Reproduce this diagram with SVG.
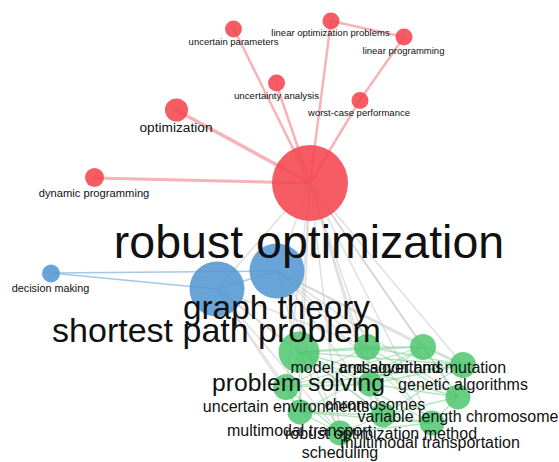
<svg xmlns="http://www.w3.org/2000/svg" width="559" height="462" viewBox="0 0 559 462">
<style>
text{font-family:"Liberation Sans",Arial,sans-serif;fill:#111;text-anchor:middle}
.r{fill:#f5454d;fill-opacity:.88}
.b{fill:#5497d3;fill-opacity:.88}
.g{fill:#47c46a;fill-opacity:.82}
.er{stroke:#f39aa0;stroke-opacity:.75;fill:none;stroke-linecap:round}
.eb{stroke:#8fb9e0;stroke-opacity:.8;fill:none;stroke-width:1.5}
.ex{stroke:#c8c8c8;stroke-opacity:.55;fill:none;stroke-width:1.6}
.eg{stroke:#7fd596;stroke-opacity:.6;fill:none;stroke-width:1.3}
</style>
<g id="connectors">
<g id="gray-edges">
<line class="ex" x1="310" y1="183" x2="277" y2="271"/>
<line class="ex" x1="310" y1="183" x2="217" y2="289"/>
<line class="ex" x1="310" y1="183" x2="299" y2="352"/>
<line class="ex" x1="310" y1="183" x2="367" y2="347"/>
<line class="ex" x1="310" y1="183" x2="423" y2="347"/>
<line class="ex" x1="310" y1="183" x2="463" y2="365"/>
<line class="ex" x1="310" y1="183" x2="286" y2="387"/>
<line class="ex" x1="310" y1="183" x2="370" y2="384"/>
<line class="ex" x1="310" y1="183" x2="458" y2="397"/>
<line class="ex" x1="310" y1="183" x2="300" y2="412"/>
<line class="ex" x1="310" y1="183" x2="383" y2="415"/>
<line class="ex" x1="310" y1="183" x2="432" y2="423"/>
<line class="ex" x1="310" y1="183" x2="340" y2="433"/>
<line class="ex" x1="277" y1="271" x2="299" y2="352"/>
<line class="ex" x1="277" y1="271" x2="367" y2="347"/>
<line class="ex" x1="277" y1="271" x2="423" y2="347"/>
<line class="ex" x1="277" y1="271" x2="463" y2="365"/>
<line class="ex" x1="277" y1="271" x2="458" y2="397"/>
<line class="ex" x1="277" y1="271" x2="383" y2="415"/>
<line class="ex" x1="277" y1="271" x2="432" y2="423"/>
<line class="ex" x1="277" y1="271" x2="340" y2="433"/>
<line class="ex" x1="217" y1="289" x2="299" y2="352"/>
<line class="ex" x1="217" y1="289" x2="367" y2="347"/>
<line class="ex" x1="217" y1="289" x2="286" y2="387"/>
<line class="ex" x1="217" y1="289" x2="300" y2="412"/>
<line class="ex" x1="217" y1="289" x2="340" y2="433"/>
<line class="ex" x1="217" y1="289" x2="383" y2="415"/>
</g>
<g id="red-edges">
<line class="er" stroke-width="3.5" x1="310" y1="183" x2="176" y2="110"/>
<line class="er" stroke-width="3" x1="310" y1="183" x2="94" y2="178"/>
<line class="er" stroke-width="2.5" x1="310" y1="183" x2="234" y2="29"/>
<line class="er" stroke-width="2.5" x1="310" y1="183" x2="331" y2="21"/>
<line class="er" stroke-width="2.5" x1="310" y1="183" x2="276" y2="83"/>
<line class="er" stroke-width="2.5" x1="310" y1="183" x2="360" y2="100"/>
<line class="er" stroke-width="2.5" x1="331" y1="21" x2="404" y2="37"/>
<line class="er" stroke-width="2.5" x1="404" y1="37" x2="360" y2="100"/>
</g>
<g id="blue-edges">
<line class="eb" x1="51" y1="273" x2="277" y2="271"/>
<line class="eb" x1="51" y1="273" x2="217" y2="289"/>
<line class="eb" stroke-width="2.5" x1="217" y1="289" x2="277" y2="271"/>
</g>
<g id="green-edges">
<line class="eg" x1="299" y1="352" x2="367" y2="347"/>
<line class="eg" x1="299" y1="352" x2="423" y2="347"/>
<line class="eg" x1="299" y1="352" x2="463" y2="365"/>
<line class="eg" x1="299" y1="352" x2="286" y2="387"/>
<line class="eg" x1="299" y1="352" x2="370" y2="384"/>
<line class="eg" x1="299" y1="352" x2="458" y2="397"/>
<line class="eg" x1="299" y1="352" x2="300" y2="412"/>
<line class="eg" x1="299" y1="352" x2="383" y2="415"/>
<line class="eg" x1="299" y1="352" x2="432" y2="423"/>
<line class="eg" x1="299" y1="352" x2="340" y2="433"/>
<line class="eg" x1="367" y1="347" x2="423" y2="347"/>
<line class="eg" x1="367" y1="347" x2="463" y2="365"/>
<line class="eg" x1="367" y1="347" x2="370" y2="384"/>
<line class="eg" x1="367" y1="347" x2="458" y2="397"/>
<line class="eg" x1="423" y1="347" x2="463" y2="365"/>
<line class="eg" x1="423" y1="347" x2="370" y2="384"/>
<line class="eg" x1="423" y1="347" x2="458" y2="397"/>
<line class="eg" x1="463" y1="365" x2="370" y2="384"/>
<line class="eg" x1="463" y1="365" x2="458" y2="397"/>
<line class="eg" x1="463" y1="365" x2="383" y2="415"/>
<line class="eg" x1="286" y1="387" x2="300" y2="412"/>
<line class="eg" x1="286" y1="387" x2="370" y2="384"/>
<line class="eg" x1="286" y1="387" x2="340" y2="433"/>
<line class="eg" x1="370" y1="384" x2="458" y2="397"/>
<line class="eg" x1="370" y1="384" x2="383" y2="415"/>
<line class="eg" x1="300" y1="412" x2="383" y2="415"/>
<line class="eg" x1="300" y1="412" x2="432" y2="423"/>
<line class="eg" x1="300" y1="412" x2="340" y2="433"/>
<line class="eg" x1="383" y1="415" x2="432" y2="423"/>
<line class="eg" x1="383" y1="415" x2="340" y2="433"/>
<line class="eg" x1="432" y1="423" x2="340" y2="433"/>
<line class="eg" x1="458" y1="397" x2="383" y2="415"/>
<line class="eg" x1="458" y1="397" x2="432" y2="423"/>
<line class="eg" x1="367" y1="347" x2="286" y2="387"/>
<line class="eg" x1="423" y1="347" x2="286" y2="387"/>
<line class="eg" x1="367" y1="347" x2="432" y2="423"/>
<line class="eg" x1="423" y1="347" x2="300" y2="412"/>
<line class="eg" x1="463" y1="365" x2="286" y2="387"/>
</g>
</g>
<g id="circles">
<circle id="c-robust-optimization" class="r" cx="310" cy="183" r="38"/>
<circle id="c-optimization" class="r" cx="176.5" cy="110" r="11.5"/>
<circle id="c-dynamic-programming" class="r" cx="94.5" cy="177.5" r="9.5"/>
<circle id="c-uncertain-parameters" class="r" cx="233.5" cy="29" r="8.5"/>
<circle id="c-linear-optimization-problems" class="r" cx="331" cy="21" r="8.5"/>
<circle id="c-linear-programming" class="r" cx="404" cy="37" r="8.5"/>
<circle id="c-uncertainty-analysis" class="r" cx="276.5" cy="83" r="8.5"/>
<circle id="c-worst-case-performance" class="r" cx="360" cy="100.5" r="8.5"/>
<circle id="c-decision-making" class="b" cx="51" cy="273.5" r="9"/>
<circle id="c-shortest-path-problem" class="b" cx="217" cy="289" r="27.5"/>
<circle id="c-graph-theory" class="b" cx="277" cy="271" r="27.5"/>
<circle id="c-problem-solving" class="g" cx="299" cy="352" r="20.5"/>
<circle id="c-model-and-algorithms" class="g" cx="367" cy="347" r="13"/>
<circle id="c-crossover-and-mutation" class="g" cx="423" cy="347" r="13"/>
<circle id="c-genetic-algorithms" class="g" cx="463" cy="365" r="13"/>
<circle id="c-uncertain-environments" class="g" cx="286" cy="387" r="13"/>
<circle id="c-chromosomes" class="g" cx="370" cy="384" r="12.5"/>
<circle id="c-variable-length-chromosome" class="g" cx="458" cy="397" r="12.5"/>
<circle id="c-multimodal-transport" class="g" cx="300" cy="412" r="12.5"/>
<circle id="c-robust-optimization-method" class="g" cx="383" cy="415" r="12.5"/>
<circle id="c-multimodal-transportation" class="g" cx="432" cy="423" r="12.5"/>
<circle id="c-scheduling" class="g" cx="340" cy="433" r="12.5"/>
</g>
<g id="labels">
<g id="robust-optimization"><text x="309" y="258" font-size="46.5">robust optimization</text></g>
<g id="optimization"><text x="176" y="132" font-size="13.7">optimization</text></g>
<g id="dynamic-programming"><text x="94" y="197" font-size="11.2">dynamic programming</text></g>
<g id="uncertain-parameters"><text x="233.5" y="45" font-size="9.5">uncertain parameters</text></g>
<g id="linear-optimization-problems"><text x="330.5" y="36" font-size="9.5">linear optimization problems</text></g>
<g id="linear-programming"><text x="403.5" y="54" font-size="9.5">linear programming</text></g>
<g id="uncertainty-analysis"><text x="276.5" y="99" font-size="9.7">uncertainty analysis</text></g>
<g id="worst-case-performance"><text x="359" y="116" font-size="9.5">worst-case performance</text></g>
<g id="decision-making"><text x="50.5" y="292" font-size="10.8">decision making</text></g>
<g id="graph-theory"><text x="276.5" y="319" font-size="33.3">graph theory</text></g>
<g id="shortest-path-problem"><text x="216.5" y="342" font-size="34">shortest path problem</text></g>
<g id="problem-solving"><text x="298.5" y="391" font-size="24.7">problem solving</text></g>
<g id="model-and-algorithms"><text x="367" y="373" font-size="16">model and algorithms</text></g>
<g id="crossover-and-mutation"><text x="423" y="373" font-size="16">crossover and mutation</text></g>
<g id="genetic-algorithms"><text x="463" y="390" font-size="16">genetic algorithms</text></g>
<g id="uncertain-environments"><text x="286" y="412" font-size="16">uncertain environments</text></g>
<g id="chromosomes"><text x="375" y="410" font-size="16">chromosomes</text></g>
<g id="variable-length-chromosome"><text x="458" y="422" font-size="16">variable length chromosome</text></g>
<g id="multimodal-transport"><text x="299.5" y="436" font-size="16">multimodal transport</text></g>
<g id="robust-optimization-method"><text x="381" y="439" font-size="16">robust optimization method</text></g>
<g id="multimodal-transportation"><text x="430" y="448" font-size="16">multimodal transportation</text></g>
<g id="scheduling"><text x="340" y="458" font-size="16">scheduling</text></g>
</g>
</svg>
